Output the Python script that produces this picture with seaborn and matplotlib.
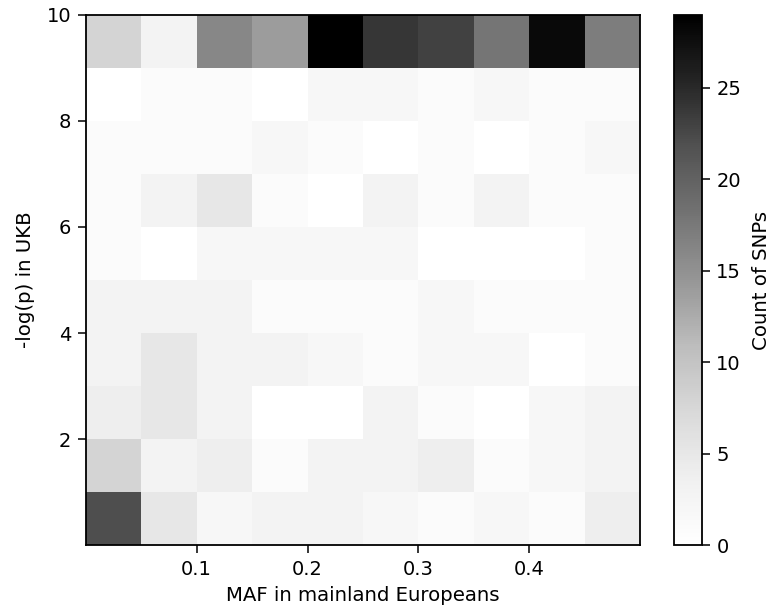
import numpy as np
import pandas as pd
import matplotlib
matplotlib.use("Agg")
import matplotlib.pyplot as plt
import seaborn as sns

# Bin edges
maf_edges = [0.0, 0.05, 0.10, 0.15, 0.20, 0.25, 0.30, 0.35, 0.40, 0.45, 0.50]
logp_edges = [0, 1, 2, 3, 4, 5, 6, 7, 8, 9, 10]

# Counts of SNPs per cell; one list per -log(p) bin (bottom to top), MAF bins left to right
counts_p0 = [22, 5, 2, 3, 3, 2, 1, 2, 1, 4]
counts_p1 = [8, 3, 4, 1, 3, 3, 4, 1, 2, 3]
counts_p2 = [4, 5, 3, 0, 0, 3, 1, 0, 2, 3]
counts_p3 = [3, 5, 3, 3, 2, 1, 2, 2, 0, 1]
counts_p4 = [3, 3, 3, 1, 1, 1, 2, 1, 1, 1]
counts_p5 = [1, 0, 2, 2, 2, 2, 0, 0, 0, 1]
counts_p6 = [1, 3, 5, 1, 0, 3, 1, 3, 1, 1]
counts_p7 = [1, 1, 1, 2, 1, 0, 1, 0, 1, 2]
counts_p8 = [0, 1, 1, 0, 2, 2, 1, 2, 1, 1]
counts_p9 = [8, 3, 16, 14, 29, 24, 23, 18, 28, 17]

x_ticks = [0.1, 0.2, 0.3, 0.4]
y_ticks = [2, 4, 6, 8, 10]
cbar_ticks = [0, 5, 10, 15, 20, 25]

grid = [counts_p0, counts_p1, counts_p2, counts_p3, counts_p4,
        counts_p5, counts_p6, counts_p7, counts_p8, counts_p9]
maf_centers = [(a + b) / 2 for a, b in zip(maf_edges[:-1], maf_edges[1:])]
logp_centers = [(a + b) / 2 for a, b in zip(logp_edges[:-1], logp_edges[1:])]
rows = []
for j, row in enumerate(grid):
    for i, c in enumerate(row):
        rows.append({"maf": maf_centers[i], "logp": logp_centers[j], "count": c})
df = pd.DataFrame(rows)

plt.rcParams["font.family"] = ["DejaVu Sans"]

fig = plt.figure(figsize=(7.72, 6.14), dpi=100)
ax = fig.add_axes([85.7 / 772, 1 - 545.3 / 614, 554.6 / 772, 530.6 / 614])
cax = fig.add_axes([674 / 772, 1 - 545.3 / 614, 27.7 / 772, 530.6 / 614])

sns.histplot(data=df, x="maf", y="logp", weights="count",
             bins=[maf_edges, logp_edges], cmap="Greys",
             vmin=0, vmax=29, cbar=True, cbar_ax=cax, ax=ax)

ax.set_xlim(0, 0.5)
ax.set_ylim(0, 10)
ax.set_xticks(x_ticks)
ax.set_xticklabels([f"{t:.1f}" for t in x_ticks])
ax.set_yticks(y_ticks)
ax.set_yticklabels([str(t) for t in y_ticks])
ax.set_xlabel("MAF in mainland Europeans", fontsize=14.2, labelpad=5)
ax.set_ylabel("-log(p) in UKB", fontsize=14.2, labelpad=8)
ax.tick_params(axis="both", labelsize=14, length=5.5, width=1.1, pad=5)
for s in ax.spines.values():
    s.set_linewidth(1.3)

cax.set_yticks(cbar_ticks)
cax.tick_params(labelsize=14, length=5.5, width=1.1, pad=5)
cax.set_ylabel("Count of SNPs", fontsize=14.2, labelpad=8)
for s in cax.spines.values():
    s.set_linewidth(1.3)

fig.savefig("out.png", dpi=100)
